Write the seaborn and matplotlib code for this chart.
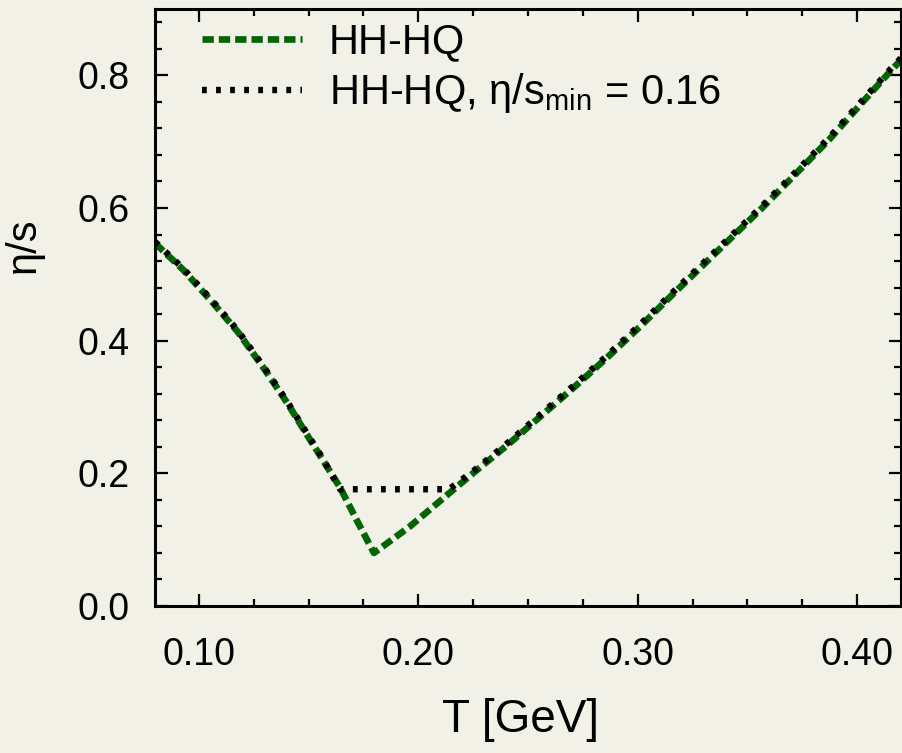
import matplotlib
matplotlib.use("Agg")
import matplotlib.pyplot as plt
from matplotlib.ticker import MultipleLocator
import seaborn as sns
import pandas as pd

# ---- data ----
T_hq = [0.080, 0.0928, 0.1064, 0.1178, 0.1301, 0.1401, 0.1474, 0.1565, 0.1643,
        0.1720, 0.1798, 0.1962, 0.2130, 0.2249, 0.2404, 0.2554, 0.2704, 0.2859,
        0.3010, 0.3160, 0.3283, 0.3420, 0.3570, 0.3725, 0.3875, 0.4026, 0.4162, 0.420]
eta_hq = [0.547, 0.507, 0.457, 0.413, 0.356, 0.307, 0.268, 0.220, 0.179,
          0.129, 0.080, 0.120, 0.167, 0.200, 0.242, 0.285, 0.328, 0.374,
          0.421, 0.470, 0.509, 0.553, 0.601, 0.653, 0.704, 0.760, 0.810, 0.823]

T_min = [0.080, 0.0928, 0.1064, 0.1178, 0.1301, 0.1401, 0.1474, 0.1565, 0.1643,
         0.2140, 0.2249, 0.2404, 0.2554, 0.2704, 0.2859, 0.3010, 0.3160, 0.3283,
         0.3420, 0.3570, 0.3725, 0.3875, 0.4026, 0.4162, 0.420]
eta_min = [0.549, 0.509, 0.459, 0.415, 0.358, 0.309, 0.270, 0.222, 0.176,
           0.176, 0.203, 0.245, 0.288, 0.331, 0.377, 0.424, 0.473, 0.512,
           0.556, 0.604, 0.656, 0.707, 0.763, 0.813, 0.826]

label_hq = "HH-HQ"
label_min = r"HH-HQ, η/s$_{\mathrm{min}}$ = 0.16"
xticks = [0.10, 0.20, 0.30, 0.40]
xticklabels = ["0.10", "0.20", "0.30", "0.40"]
yticks = [0.0, 0.2, 0.4, 0.6, 0.8]
yticklabels = ["0.0", "0.2", "0.4", "0.6", "0.8"]

bg = "#f2f1e7"
sns.set_theme(style="ticks")
plt.rcParams["font.family"] = ["Liberation Sans", "DejaVu Sans"]
plt.rcParams["mathtext.fontset"] = "custom"
plt.rcParams["mathtext.rm"] = "Liberation Sans"
plt.rcParams["mathtext.it"] = "Liberation Sans:italic"
for k in ["text.color", "axes.labelcolor", "xtick.color", "ytick.color",
          "xtick.labelcolor", "ytick.labelcolor"]:
    plt.rcParams[k] = "black"

df_hq = pd.DataFrame({"T": T_hq, "eta": eta_hq})
df_min = pd.DataFrame({"T": T_min, "eta": eta_min})

fig = plt.figure(figsize=(9.02, 7.53), dpi=100, facecolor=bg)
ax = fig.add_axes([155 / 902, (753 - 606) / 753, 746 / 902, 597 / 753])
ax.set_facecolor(bg)

sns.lineplot(data=df_hq, x="T", y="eta", ax=ax, color="#006400", lw=4.8,
             linestyle=(0, (1.7, 0.75)), sort=False, estimator=None,
             label=label_hq)
sns.lineplot(data=df_min, x="T", y="eta", ax=ax, color="black", lw=4.6,
             linestyle=(0, (0.75, 1.45)), sort=False, estimator=None,
             label=label_min)

ax.set_xlim(0.08, 0.42)
ax.set_ylim(0.0, 0.9)
ax.set_xticks(xticks)
ax.set_xticklabels(xticklabels)
ax.set_yticks(yticks)
ax.set_yticklabels(yticklabels)
ax.xaxis.set_minor_locator(MultipleLocator(0.025))
ax.yaxis.set_minor_locator(MultipleLocator(0.04))

for s in ax.spines.values():
    s.set_visible(True)
    s.set_linewidth(2.2)
    s.set_color("black")

ax.tick_params(which="both", direction="in", top=True, right=True,
               color="black", width=1.6)
ax.tick_params(which="major", length=9)
ax.tick_params(which="minor", length=5)
ax.tick_params(axis="x", which="major", labelsize=27, pad=22)
ax.tick_params(axis="y", which="major", labelsize=27, pad=18)

ax.set_xlabel("T [GeV]", fontsize=33)
ax.set_ylabel("η/s", fontsize=30)
ax.xaxis.set_label_coords((520 - 155) / 746, -(698 - 606) / 597)
ax.yaxis.set_label_coords(-(155 - 44) / 746, (606 - 245) / 597)

leg = ax.legend(loc="upper left", bbox_to_anchor=(0.04, 1.006), frameon=False,
                fontsize=30, handlelength=2.4, handletextpad=0.65,
                labelspacing=0.22, borderaxespad=0.0)

fig.savefig("out.png", dpi=100, facecolor=bg)
